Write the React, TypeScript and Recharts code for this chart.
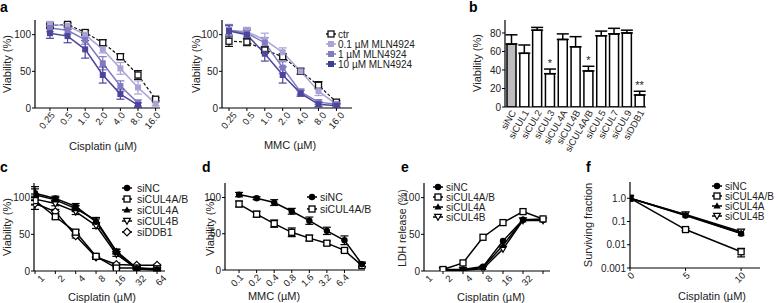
import React from "react";
import { LineChart, Line, ComposedChart, Bar, Cell, XAxis, YAxis, ErrorBar } from "recharts";

const FONT = '"Liberation Sans", Arial, Helvetica, sans-serif';
const INK = "#222";

// ---- panel a: viability with MLN4924 ----
const aDoses = ["0.25", "0.5", "1.0", "2.0", "4.0", "8.0", "16.0"];
const aIndex = [0, 1, 2, 3, 4, 5, 6];
const aCisCtr = [112, 114, 103, 89, 70, 45, 12];
const aCisCtrErr = [3, 2, 3, 4, 4, 6, 2];
const aCisLow = [114, 112, 100, 80, 54, 28, 6];
const aCisLowErr = [4, 3, 3, 5, 8, 9, 3];
const aCisMid = [109, 106, 93, 61, 30, 7, null];
const aCisMidErr = [5, 5, 6, 9, 7, 4, null];
const aCisHigh = [102, 98, 80, 45, 19, 4, null];
const aCisHighErr = [7, 9, 12, 11, 7, 3, null];

const aMmcCtr = [91, 90, 79, 70, 50, 31, 8];
const aMmcCtrErr = [7, 5, 4, 4, 4, 5, 2];
const aMmcLow = [106, 104, 93, 76, 50, 23, 5];
const aMmcLowErr = [8, 6, 9, 6, 4, 6, 3];
const aMmcMid = [106, 102, 89, 55, 22, 8, 5];
const aMmcMidErr = [6, 6, 7, 8, 4, 3, 2];
const aMmcHigh = [105, 100, 74, 45, 20, 5, 3];
const aMmcHighErr = [8, 6, 10, 11, 4, 3, 2];

// ---- panel b: siRNA screen ----
const bGroups = ["siNC", "siCUL1", "siCUL2", "siCUL3", "siCUL4A", "siCUL4B", "siCUL4A/B", "siCUL5", "siCUL7", "siCUL9", "siDDB1"];
const bViability = [68, 58, 83, 36, 73, 65, 39, 77, 79, 80, 13];
const bErr = [10, 9, 3, 5, 6, 11, 5, 5, 6, 3, 4];
const bSig = ["", "", "", "*", "", "", "*", "", "", "", "**"];

// ---- panel c: cisplatin, knockdowns ----
const cDoses = ["1", "2", "4", "8", "16", "32", "64"];
const cIndex = [0, 1, 2, 3, 4, 5, 6];
const cNC = [106, 99, 88, 67, 26, 3, 2];
const cNCErr = [9, 3, 4, 4, 3, 1, 1];
const cAB = [96, 74, 53, 20, 4, 4, 3];
const cABErr = [6, 3, 3, 3, 1, 1, 1];
const cA = [104, 97, 85, 69, 27, 4, 2];
const cAErr = [8, 3, 4, 4, 3, 1, 1];
const cB = [98, 92, 81, 62, 23, 3, 1];
const cBErr = [7, 3, 4, 4, 3, 1, 1];
const cDDB1 = [92, 81, 48, 19, 9, 8, 8];
const cDDB1Err = [8, 3, 3, 3, 2, 1, 1];

// ---- panel d: MMC ----
const dDoses = ["0.1", "0.2", "0.4", "0.8", "1.6", "3.2", "6.4"];
const dIndex = [0, 1, 2, 3, 4, 5, 6, 7];
const dNC = [104, 99, 93, 81, 68, 54, 41, 8];
const dNCErr = [3, 2, 4, 4, 5, 5, 6, 3];
const dAB = [91, 77, 64, 52, 44, 37, 27, 6];
const dABErr = [4, 4, 5, 6, 4, 3, 2, 3];

// ---- panel e: LDH release ----
const eDoses = ["1", "2", "4", "8", "16", "32"];
const eIndex = [0, 1, 2, 3, 4, 5];
const eNC = [2, 2, 6, 41, 70, 70];
const eAB = [2, 11, 46, 66, 81, 71];
const eA = [1, 1, 5, 35, 70, 71];
const eB = [1, 1, 3, 30, 69, 69];

// ---- panel f: clonogenic survival ----
const fDoses = [0, 5, 10];
const fNC = [1, 0.18, 0.03];
const fAB = [1, 0.045, 0.005];
const fABErr = [null, 0.005, 0.002];
const fA = [1, 0.19, 0.031];
const fB = [1, 0.2, 0.036];

const C_LOW = "#a9a3d6";
const C_MID = "#807ac3";
const C_HIGH = "#4b469b";

type Series = { key: string; values: (number | null)[]; errs?: (number | null)[]; color: string; shape: string; dash?: string; width?: number };

const Mark = ({ cx, cy, shape, color }: any) => {
  if (cx == null || cy == null || isNaN(cy)) return <g />;
  const s = 3;
  switch (shape) {
    case "circle":
      return <circle cx={cx} cy={cy} r={3.2} fill={color} />;
    case "square":
      return <rect x={cx - s} y={cy - s} width={6} height={6} fill={color} />;
    case "osquare":
      return <rect x={cx - s} y={cy - s} width={6} height={6} fill="#fff" stroke={color} strokeWidth={1.3} />;
    case "tri":
      return <polygon points={`${cx},${cy - 3.8} ${cx + 3.6},${cy + 2.6} ${cx - 3.6},${cy + 2.6}`} fill={color} />;
    case "otri":
      return <polygon points={`${cx - 3.4},${cy - 2.6} ${cx + 3.4},${cy - 2.6} ${cx},${cy + 3.4}`} fill="#fff" stroke={color} strokeWidth={1.2} />;
    case "odiamond":
      return <polygon points={`${cx},${cy - 3.8} ${cx + 3.8},${cy} ${cx},${cy + 3.8} ${cx - 3.8},${cy}`} fill="#fff" stroke={color} strokeWidth={1.2} />;
    default:
      return <g />;
  }
};

const XTick = ({ x, y, payload, labelOf, shift, angle, fs }: any) => (
  <g transform={`translate(${x + shift},${y})`}>
    <text textAnchor="end" transform={`rotate(${angle})`} dy={7} fontSize={fs} fontFamily={FONT} fill={INK}>
      {labelOf(payload.value)}
    </text>
  </g>
);

const YW = 34;
const MT = 4;
const MR = 4;
const XH = 44;

function LinePanel(props: any) {
  const { rect, xs, xDomain, xTicks, labelOf, shift, angle, yDomain, yTicks, yFmt, yLog, series } = props;
  const [x1, y1, x2, y2] = rect;
  const rows = xs.map((x: number, i: number) => {
    const r: any = { x };
    series.forEach((s: Series) => {
      r[s.key] = s.values[i];
      if (s.errs) r[s.key + "_e"] = s.errs[i];
    });
    return r;
  });
  return (
    <div style={{ position: "absolute", left: x1 - YW, top: y1 - MT }}>
      <LineChart width={x2 - x1 + YW + MR} height={y2 - y1 + MT + XH} data={rows} margin={{ top: MT, right: MR, left: 0, bottom: 0 }}>
        <XAxis
          dataKey="x"
          type="number"
          domain={xDomain}
          ticks={xTicks}
          interval={0}
          allowDataOverflow
          height={XH}
          tickSize={3}
          tickMargin={0}
          axisLine={{ stroke: "#000", strokeWidth: 1.2 }}
          tickLine={{ stroke: "#000" }}
          tick={(p: any) => <XTick {...p} labelOf={labelOf} shift={shift} angle={angle} fs={9.5} />}
        />
        <YAxis
          type="number"
          domain={yDomain}
          ticks={yTicks}
          interval={0}
          allowDataOverflow
          scale={yLog ? "log" : "linear"}
          width={YW}
          tickSize={3}
          tickMargin={1}
          tickFormatter={yFmt}
          axisLine={{ stroke: "#000", strokeWidth: 1.2 }}
          tickLine={{ stroke: "#000" }}
          tick={{ fontSize: 10, fill: INK, fontFamily: FONT }}
        />
        {series.map((s: Series) => (
          <Line
            key={s.key}
            dataKey={s.key}
            type="linear"
            stroke={s.color}
            strokeWidth={s.width ?? 1.5}
            strokeDasharray={s.dash}
            isAnimationActive={false}
            activeDot={false}
            dot={(p: any) => <Mark key={`${s.key}-${p.index}`} cx={p.cx} cy={p.cy} shape={s.shape} color={s.color} />}
          >
            {s.errs && <ErrorBar dataKey={s.key + "_e"} width={4} stroke={s.color} strokeWidth={1.2} direction="y" />}
          </Line>
        ))}
      </LineChart>
    </div>
  );
}

const SHAPES: Record<string, string> = { siNC: "circle", "siCUL4A/B": "osquare", siCUL4A: "tri", siCUL4B: "otri", siDDB1: "odiamond" };

const knock = (key: string, values: any[], errs?: any[]): Series => ({ key, values, errs, color: "#000", shape: SHAPES[key] });

function ScreenPanel() {
  const [x1, y1, x2, y2] = [505, 20, 646, 107];
  const rows = bGroups.map((g, i) => ({
    name: g,
    v: bViability[i],
    e: [0, bErr[i]],
    star: bSig[i] ? bViability[i] + bErr[i] : null,
  }));
  return (
    <div style={{ position: "absolute", left: x1 - YW, top: y1 - MT }}>
      <ComposedChart width={x2 - x1 + YW + MR} height={y2 - y1 + MT + 50} data={rows} margin={{ top: MT, right: MR, left: 0, bottom: 0 }}>
        <XAxis
          dataKey="name"
          type="category"
          interval={0}
          height={50}
          tickSize={0}
          tickMargin={2}
          axisLine={{ stroke: "#000", strokeWidth: 1.2 }}
          tick={(p: any) => <XTick {...p} labelOf={(v: string) => v} shift={-1} angle={-60} fs={9.5} />}
        />
        <YAxis
          type="number"
          domain={[0, 94]}
          ticks={[0, 20, 40, 60, 80]}
          interval={0}
          allowDataOverflow
          width={YW}
          tickSize={3}
          tickMargin={1}
          axisLine={{ stroke: "#000", strokeWidth: 1.2 }}
          tickLine={{ stroke: "#000" }}
          tick={{ fontSize: 10, fill: INK, fontFamily: FONT }}
        />
        <Bar dataKey="v" barSize={9} stroke="#000" strokeWidth={1.5} isAnimationActive={false}>
          {rows.map((r, i) => (
            <Cell key={r.name} fill={i === 0 ? "#bdbdbd" : "#fff"} />
          ))}
          <ErrorBar dataKey="e" width={6} stroke="#000" strokeWidth={1.5} direction="y" />
        </Bar>
        <Line
          dataKey="star"
          stroke="none"
          dot={false}
          activeDot={false}
          isAnimationActive={false}
          label={(p: any) =>
            p.value == null ? null : (
              <text key={`s${p.index}`} x={p.x} y={p.y - 2} textAnchor="middle" fontSize={11} fontFamily={FONT} fill={INK}>
                {bSig[p.index]}
              </text>
            )
          }
        />
      </ComposedChart>
    </div>
  );
}

const LegendRows = ({ mx, tx, ys, items, fs }: any) => (
  <g>
    {items.map((it: any, i: number) => (
      <g key={it.label}>
        <line x1={mx - 5} x2={mx + 5} y1={ys[i]} y2={ys[i]} stroke={it.color} strokeWidth={1.5} />
        <Mark cx={mx} cy={ys[i]} shape={it.shape} color={it.color} />
        <text x={tx} y={ys[i]} dominantBaseline="central" fontSize={fs} fontFamily={FONT} fill={INK}>
          {it.label}
        </text>
      </g>
    ))}
  </g>
);

const T = ({ x, y, children, rot, fs = 11 }: any) => (
  <text
    x={x}
    y={y}
    textAnchor="middle"
    dominantBaseline="central"
    fontSize={fs}
    fontFamily={FONT}
    fill={INK}
    transform={rot ? `rotate(-90, ${x}, ${y})` : undefined}
  >
    {children}
  </text>
);

const knockLegend = (names: string[]) => names.map((n) => ({ label: n, color: "#000", shape: SHAPES[n] }));

export default function App() {
  const aCis: Series[] = [
    { key: "ctr", values: aCisCtr, errs: aCisCtrErr, color: "#111", shape: "osquare", dash: "3 2", width: 1.2 },
    { key: "low", values: aCisLow, errs: aCisLowErr, color: C_LOW, shape: "square" },
    { key: "mid", values: aCisMid, errs: aCisMidErr, color: C_MID, shape: "square" },
    { key: "high", values: aCisHigh, errs: aCisHighErr, color: C_HIGH, shape: "square" },
  ];
  const aMmc: Series[] = [
    { key: "ctr", values: aMmcCtr, errs: aMmcCtrErr, color: "#111", shape: "osquare", dash: "3 2", width: 1.2 },
    { key: "low", values: aMmcLow, errs: aMmcLowErr, color: C_LOW, shape: "square" },
    { key: "mid", values: aMmcMid, errs: aMmcMidErr, color: C_MID, shape: "square" },
    { key: "high", values: aMmcHigh, errs: aMmcHighErr, color: C_HIGH, shape: "square" },
  ];
  const idxLabel = (arr: string[]) => (v: number) => arr[Math.round(v)] ?? "";

  return (
    <div style={{ position: "absolute", left: 0, top: 0, width: 778, height: 303, background: "#fff", fontFamily: FONT, overflow: "hidden" }}>
      <LinePanel
        rect={[35, 20, 160, 108]}
        xs={aIndex}
        xDomain={[-0.85, 6.25]}
        xTicks={aIndex}
        labelOf={idxLabel(aDoses)}
        shift={0}
        angle={-50}
        yDomain={[0, 120]}
        yTicks={[0, 50, 100]}
        series={aCis}
      />
      <LinePanel
        rect={[222, 20, 352, 108]}
        xs={aIndex}
        xDomain={[-0.39, 6.87]}
        xTicks={aIndex}
        labelOf={idxLabel(aDoses)}
        shift={3}
        angle={-50}
        yDomain={[0, 120]}
        yTicks={[0, 50, 100]}
        series={aMmc}
      />
      <ScreenPanel />
      <LinePanel
        rect={[34, 183, 165, 271]}
        xs={cIndex}
        xDomain={[-0.05, 6.39]}
        xTicks={cIndex}
        labelOf={idxLabel(cDoses)}
        shift={5}
        angle={-45}
        yDomain={[0, 120]}
        yTicks={[0, 50, 100]}
        series={[
          knock("siDDB1", cDDB1, cDDB1Err),
          knock("siCUL4B", cB, cBErr),
          knock("siCUL4A/B", cAB, cABErr),
          knock("siCUL4A", cA, cAErr),
          knock("siNC", cNC, cNCErr),
        ]}
      />
      <LinePanel
        rect={[225, 183, 365, 270]}
        xs={dIndex}
        xDomain={[-0.8, 7.17]}
        xTicks={[0, 1, 2, 3, 4, 5, 6]}
        labelOf={idxLabel(dDoses)}
        shift={0}
        angle={-45}
        yDomain={[0, 120]}
        yTicks={[0, 50, 100]}
        series={[knock("siCUL4A/B", dAB, dABErr), knock("siNC", dNC, dNCErr)]}
      />
      <LinePanel
        rect={[424, 183, 550, 271]}
        xs={eIndex}
        xDomain={[-0.95, 5.35]}
        xTicks={eIndex}
        labelOf={idxLabel(eDoses)}
        shift={-15}
        angle={-45}
        yDomain={[0, 120]}
        yTicks={[0, 50, 100]}
        series={[knock("siCUL4B", eB), knock("siCUL4A", eA), knock("siNC", eNC), knock("siCUL4A/B", eAB)]}
      />
      <LinePanel
        rect={[630, 182, 760, 268]}
        xs={fDoses}
        xDomain={[0, 11.7]}
        xTicks={fDoses}
        labelOf={(v: number) => String(v)}
        shift={0}
        angle={-45}
        yDomain={[0.001, 5]}
        yTicks={[0.001, 0.01, 0.1, 1]}
        yLog
        yFmt={(v: number) => (v === 1 ? "1.0" : String(v))}
        series={[knock("siCUL4A/B", fAB, fABErr), knock("siCUL4B", fB), knock("siCUL4A", fA), knock("siNC", fNC)]}
      />

      <svg width={778} height={303} style={{ position: "absolute", left: 0, top: 0, pointerEvents: "none" }}>
        <text x={0} y={12} fontSize={14} fontWeight={700} fontFamily={FONT}>a</text>
        <text x={469} y={12} fontSize={14} fontWeight={700} fontFamily={FONT}>b</text>
        <text x={0} y={172} fontSize={14} fontWeight={700} fontFamily={FONT}>c</text>
        <text x={202} y={172} fontSize={14} fontWeight={700} fontFamily={FONT}>d</text>
        <text x={401} y={172} fontSize={14} fontWeight={700} fontFamily={FONT}>e</text>
        <text x={586} y={172} fontSize={14} fontWeight={700} fontFamily={FONT}>f</text>

        <T x={7} y={64} rot>Viability (%)</T>
        <T x={196} y={64} rot>Viability (%)</T>
        <T x={477} y={63} rot>Viability (%)</T>
        <T x={7} y={227} rot>Viability (%)</T>
        <T x={210} y={227} rot>Viability (%)</T>
        <T x={402} y={228} rot fs={10.5}>LDH release (%)</T>
        <T x={588} y={225} rot>Surviving fraction</T>

        <T x={103} y={146}>Cisplatin (µM)</T>
        <T x={290} y={145}>MMC (µM)</T>
        <T x={102} y={297}>Cisplatin (µM)</T>
        <T x={274} y={296}>MMC (µM)</T>
        <T x={491} y={297}>Cisplatin (µM)</T>
        <T x={712} y={296}>Cisplatin (µM)</T>

        <LegendRows
          mx={331}
          tx={338}
          ys={[34, 44, 54, 64]}
          fs={10}
          items={[
            { label: "ctr", color: "#111", shape: "osquare" },
            { label: "0.1 µM MLN4924", color: C_LOW, shape: "square" },
            { label: "1 µM MLN4924", color: C_MID, shape: "square" },
            { label: "10 µM MLN4924", color: "#3a3f92", shape: "square" },
          ]}
        />
        <LegendRows mx={127} tx={137} ys={[188, 199, 210, 221, 232]} fs={10.5} items={knockLegend(["siNC", "siCUL4A/B", "siCUL4A", "siCUL4B", "siDDB1"])} />
        <LegendRows mx={312} tx={320} ys={[197, 209]} fs={10.5} items={knockLegend(["siNC", "siCUL4A/B"])} />
        <LegendRows mx={438} tx={446} ys={[187, 197, 207, 217]} fs={10} items={knockLegend(["siNC", "siCUL4A/B", "siCUL4A", "siCUL4B"])} />
        <LegendRows mx={717} tx={725} ys={[186, 196, 206, 216]} fs={10} items={knockLegend(["siNC", "siCUL4A/B", "siCUL4A", "siCUL4B"])} />
      </svg>
    </div>
  );
}
